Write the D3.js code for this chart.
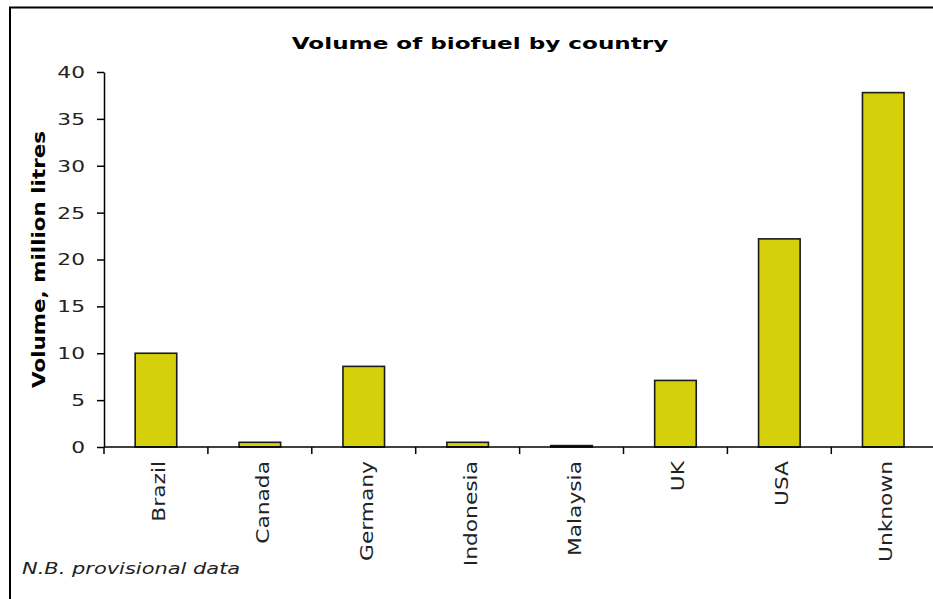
<!DOCTYPE html>
<html>
<head>
<meta charset="utf-8">
<script src="https://cdn.jsdelivr.net/npm/d3@7"></script>
<style>
  html, body { margin: 0; padding: 0; background: #fff; }
  svg { display: block; }
  text { font-family: "DejaVu Sans", Verdana, sans-serif; fill: #000; }
</style>
</head>
<body>
<div id="chart"></div>
<script>
// chart values
var categories = ["Brazil", "Canada", "Germany", "Indonesia", "Malaysia", "UK", "USA", "Unknown"];
var volumes = [10.0, 0.5, 8.6, 0.5, 0.15, 7.1, 22.2, 37.8];
var yTicks = [0, 5, 10, 15, 20, 25, 30, 35, 40];
var title = "Volume of biofuel by country";
var yTitle = "Volume, million litres";
var note = "N.B. provisional data";

var W = 933, H = 599;
var plotLeft = 104, plotTop = 72, plotBottom = 447;
var step = 103.9; // category spacing; the plot runs past the right edge
var plotRight = plotLeft + step * categories.length;

var svg = d3.select("#chart").append("svg")
  .attr("width", W)
  .attr("height", H);

// outer frame (cut off at right and bottom in the picture)
svg.append("rect")
  .attr("x", 10).attr("y", 7.5)
  .attr("width", 1000).attr("height", 1000)
  .attr("fill", "none")
  .attr("stroke", "#000")
  .attr("stroke-width", 2);

var x = d3.scaleBand()
  .domain(categories)
  .range([plotLeft, plotRight])
  .paddingInner(0.6)
  .paddingOuter(0.3);

var y = d3.scaleLinear()
  .domain([0, 40])
  .range([plotBottom, plotTop]);

// bars
svg.append("g").selectAll("rect")
  .data(categories)
  .enter().append("rect")
  .attr("x", function (d) { return x(d); })
  .attr("y", function (d, i) { return y(volumes[i]); })
  .attr("width", x.bandwidth())
  .attr("height", function (d, i) { return plotBottom - y(volumes[i]); })
  .attr("fill", "#d4d00c")
  .attr("stroke", "#1a1a1a")
  .attr("stroke-width", 1.6);

// y axis
var yAxis = svg.append("g")
  .attr("transform", "translate(" + plotLeft + ",0)")
  .call(d3.axisLeft(y).tickValues(yTicks).tickSize(7).tickSizeOuter(0).tickPadding(0));
yAxis.select(".domain").attr("stroke", "#000").attr("stroke-width", 1.5);
yAxis.selectAll(".tick line").attr("stroke", "#000").attr("stroke-width", 1.5);
yAxis.selectAll(".tick text").remove();
yAxis.selectAll(".tick").append("text")
  .attr("text-anchor", "end")
  .attr("dy", "0.36em")
  .attr("transform", "translate(-19,0) scale(1.45,1)")
  .style("font-size", "15px")
  .style("fill", "#222")
  .text(function (d) { return d; });

// x axis: line, ticks at category boundaries, rotated labels
svg.append("line")
  .attr("x1", plotLeft).attr("x2", plotRight)
  .attr("y1", plotBottom).attr("y2", plotBottom)
  .attr("stroke", "#000").attr("stroke-width", 1.5);

svg.append("g").selectAll("line")
  .data(categories)
  .enter().append("line")
  .attr("x1", function (d) { return x(d) - x.step() * 0.3; })
  .attr("x2", function (d) { return x(d) - x.step() * 0.3; })
  .attr("y1", plotBottom)
  .attr("y2", plotBottom + 7)
  .attr("stroke", "#000").attr("stroke-width", 1.5);

svg.append("g").selectAll("text")
  .data(categories)
  .enter().append("text")
  .attr("text-anchor", "end")
  .attr("transform", function (d) {
    return "translate(" + (x(d) + x.bandwidth() / 2 + 9) + "," + 461 + ") rotate(-90) scale(1.28,1)";
  })
  .style("font-size", "17px")
  .style("fill", "#222")
  .text(function (d) { return d; });

// titles
svg.append("text")
  .attr("text-anchor", "middle")
  .attr("transform", "translate(480,49) scale(1.54,1)")
  .style("font-size", "15px")
  .style("font-weight", "bold")
  .text(title);

svg.append("text")
  .attr("text-anchor", "middle")
  .attr("transform", "translate(45," + ((plotTop + plotBottom) / 2) + ") rotate(-90) scale(1.26,1)")
  .style("font-size", "17px")
  .style("font-weight", "bold")
  .text(yTitle);

svg.append("text")
  .attr("transform", "translate(22,574) scale(1.31,1)")
  .style("font-size", "16px")
  .style("font-style", "italic")
  .style("fill", "#222")
  .text(note);
</script>
</body>
</html>
